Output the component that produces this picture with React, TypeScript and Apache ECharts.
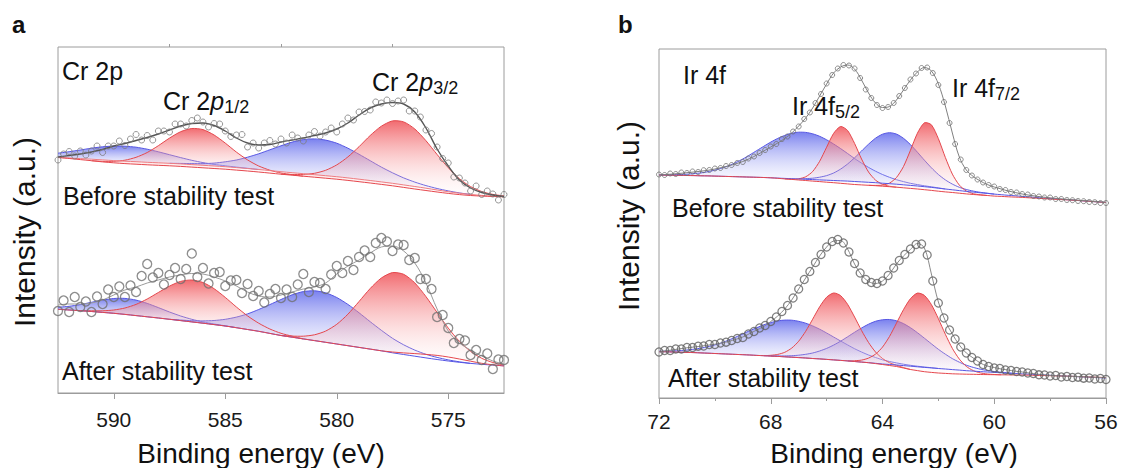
import React, { useEffect, useRef } from 'react';
import * as echarts from 'echarts';

// ---------------- Cr 2p panel (a) ----------------
const crE = [592.5, 592, 591.5, 591, 590.5, 590, 589.5, 589, 588.5, 588, 587.5, 587, 586.5, 586, 585.5, 585, 584.5, 584, 583.5, 583, 582.5, 582, 581.5, 581, 580.5, 580, 579.5, 579, 578.5, 578, 577.5, 577, 576.5, 576, 575.5, 575, 574.5, 574, 573.5, 573, 572.5];
const crScatterE = [592.5, 592.25, 592, 591.75, 591.5, 591.25, 591, 590.75, 590.5, 590.25, 590, 589.75, 589.5, 589.25, 589, 588.75, 588.5, 588.25, 588, 587.75, 587.5, 587.25, 587, 586.75, 586.5, 586.25, 586, 585.75, 585.5, 585.25, 585, 584.75, 584.5, 584.25, 584, 583.75, 583.5, 583.25, 583, 582.75, 582.5, 582.25, 582, 581.75, 581.5, 581.25, 581, 580.75, 580.5, 580.25, 580, 579.75, 579.5, 579.25, 579, 578.75, 578.5, 578.25, 578, 577.75, 577.5, 577.25, 577, 576.75, 576.5, 576.25, 576, 575.75, 575.5, 575.25, 575, 574.75, 574.5, 574.25, 574, 573.75, 573.5, 573.25, 573, 572.75, 572.5];
const crTicks = [575, 580, 585, 590];
const crMinorTicks = [577.5, 582.5, 587.5];

const crBeforeBgBlue = [235.5, 235, 234.4, 233.8, 233.1, 232.4, 231.8, 231.3, 230.7, 230.2, 229.7, 229.1, 228.4, 227.7, 227, 226.3, 225.4, 224.5, 223.5, 222.4, 221.3, 220.3, 219.3, 218.3, 217.3, 216.3, 215.1, 213.8, 212.5, 211.1, 209.7, 208.1, 206.5, 204.8, 203, 201.3, 199.8, 198.6, 197.6, 196.9, 196.3];
const crBeforeBgRed = [235.5, 234.5, 233.4, 232.3, 231.1, 230.2, 229.4, 228.8, 228.2, 227.7, 227.2, 226.6, 225.9, 225.2, 224.5, 223.8, 222.9, 222, 221, 219.9, 218.8, 217.8, 216.8, 215.8, 214.8, 213.8, 212.6, 211.3, 210, 208.6, 207.2, 205.6, 204, 202.5, 201, 199.6, 198.4, 197.5, 196.9, 196.5, 196.2];
const crBeforeEnvelope = [236, 237.5, 239, 241, 243.5, 247, 249.5, 252.5, 255.5, 259, 263, 267, 269.5, 270, 267.5, 262, 255, 250, 248, 248.5, 251, 253, 255, 257.5, 260, 264, 270, 278, 285, 289, 290.5, 289, 281, 265, 244, 227, 213, 205, 200.5, 198, 196.5];
const crBeforeScatter = [233, 239, 241.5, 237, 242, 238, 242, 247, 240.5, 247, 247, 252, 247.5, 254, 258.5, 253, 257.5, 253, 262, 262, 261, 269, 269, 267, 272.5, 275, 271, 266, 269.5, 269, 262, 256.5, 258, 258.5, 246, 250, 245, 250, 252.5, 249, 254, 250, 258, 255, 252, 258, 261.5, 257, 261, 265, 261, 269, 275, 273, 281, 281.5, 283, 291, 290, 293, 289.5, 292, 293, 282, 282, 276, 263, 259.5, 246, 234.5, 230, 216, 215, 210, 202, 207, 198.5, 202, 199, 193, 198.5];
const crBeforeBlue1Start = 592.5;
const crBeforeBlue1 = [4.3, 6.3, 8.6, 11, 13.1, 14.5, 15, 14.5, 13.1, 11, 8.6, 6.3, 4.3, 2.7, 1.6, 0.9, 0.5, 0.2, 0];
const crBeforeBlue2Start = 587.5;
const crBeforeBlue2 = [0, 0.5, 1.0, 1.7, 2.9, 4.9, 7.6, 11.3, 15.7, 20.8, 25.9, 30.6, 34.1, 35.8, 35.6, 33.5, 29.7, 24.9, 19.8, 14.8, 10.5, 7.0, 4.4, 2.6, 1.5, 0.8, 0.3, 0];
const crBeforeRed1Start = 591;
const crBeforeRed1 = [0, 0.6, 1.5, 3.4, 6.9, 12.3, 19.6, 27.7, 34.7, 38.6, 38.2, 33.5, 26.1, 18.0, 11.1, 6.0, 2.9, 1.2, 0.5, 0];
const crBeforeRed2Start = 582.5;
const crBeforeRed2 = [0, 0.8, 1.8, 3.9, 7.9, 14.3, 23.5, 35, 47.5, 58.2, 64.9, 65.5, 60, 49.8, 37.5, 25.7, 15.9, 8.9, 4.6, 2.1, 0.9];

const crAfterBgRed = [83.7, 83, 82.3, 81.5, 80.6, 79.7, 78.6, 77.4, 76.2, 75, 73.7, 72.4, 71.1, 69.8, 68.4, 67, 65.3, 63.5, 61.7, 59.6, 57.5, 55.8, 54.1, 52.4, 50.7, 49, 47.3, 45.6, 43.9, 42.2, 41, 40.1, 39.4, 38.6, 37.6, 36, 34, 31.8, 29.7, 28.2, 27];
const crAfterBgBlue = [83.7, 83, 82.3, 81.5, 80.6, 79.7, 78.6, 77.4, 76.2, 75, 73.7, 72.4, 71.1, 69.8, 68.4, 67, 65.3, 63.5, 61.7, 59.6, 57.5, 55.8, 54.1, 52.4, 50.7, 49, 47.3, 45.6, 43.9, 42.2, 40.2, 38.5, 36.8, 35.1, 33.5, 32, 30.7, 29.6, 28.7, 27.9, 27.2];
const crAfterEnvelope = [88, 89, 89, 90, 93, 98, 103, 106, 110, 113, 116, 118, 119.5, 119, 116, 112, 107, 101, 97, 96, 98, 101, 104, 106, 110, 119, 127, 133, 140, 146, 147, 142, 130, 110, 84, 62, 50, 43, 37, 32, 29];
const crAfterScatter = [82, 92.5, 81, 96, 86, 91.5, 81, 96.5, 89, 103.5, 96, 106.5, 96, 107.5, 101, 117, 129, 115.5, 120, 108.5, 118, 125, 114, 124, 139.5, 116, 125, 109.5, 120, 121, 107, 112.5, 113, 100, 109, 97, 102, 90.5, 99, 104, 95, 103.5, 96, 108.5, 119, 101, 111, 110, 104, 118.5, 127, 120, 132, 123, 136, 142.5, 136, 150, 155, 151.5, 142, 148.5, 148, 133, 135, 114, 114, 104, 76, 78, 65, 50, 54, 52.5, 38, 43, 33, 39.5, 24, 33.5, 33];
const crAfterBlue1Start = 592.5;
const crAfterBlue1 = [2.0, 3.7, 6.1, 9.2, 12.3, 14.8, 16, 15.5, 13.4, 10.4, 7.3, 4.6, 2.6, 1.3, 0.6, 0.2, 0];
const crAfterBlue2Start = 587.5;
const crAfterBlue2 = [0, 0.6, 1.2, 2.3, 4.1, 6.7, 10.6, 15.6, 21.8, 28.8, 36, 42.4, 47.3, 49.8, 49.5, 46.5, 41.3, 34.6, 27.4, 20.5, 14.5, 9.7, 6.1, 3.6, 2.1, 1.1, 0.5, 0];
const crAfterRed1Start = 591.5;
const crAfterRed1 = [0, 0.7, 1.6, 3.3, 6.4, 11.2, 17.8, 25.5, 33.2, 39.2, 41.9, 40.7, 35.9, 28.6, 20.7, 13.6, 8.1, 4.4, 2.2, 1.0, 0];
const crAfterRed2Start = 582.5;
const crAfterRed2 = [0, 1.1, 2.7, 5.8, 11.2, 19.7, 31.5, 45.9, 60.6, 72.8, 79.4, 78.6, 70.7, 57.8, 42.9, 28.9, 17.7, 9.9, 5.0, 2.3, 1.0];

// ---------------- Ir 4f panel (b) ----------------
const irE = [72, 71.75, 71.5, 71.25, 71, 70.75, 70.5, 70.25, 70, 69.75, 69.5, 69.25, 69, 68.75, 68.5, 68.25, 68, 67.75, 67.5, 67.25, 67, 66.75, 66.5, 66.25, 66, 65.75, 65.5, 65.25, 65, 64.75, 64.5, 64.25, 64, 63.75, 63.5, 63.25, 63, 62.75, 62.5, 62.25, 62, 61.75, 61.5, 61.25, 61, 60.75, 60.5, 60.25, 60, 59.75, 59.5, 59.25, 59, 58.75, 58.5, 58.25, 58, 57.75, 57.5, 57.25, 57, 56.75, 56.5, 56.25, 56];
const irScatterE = [72, 71.8, 71.6, 71.4, 71.2, 71, 70.8, 70.6, 70.4, 70.2, 70, 69.8, 69.6, 69.4, 69.2, 69, 68.8, 68.6, 68.4, 68.2, 68, 67.8, 67.6, 67.4, 67.2, 67, 66.8, 66.6, 66.4, 66.2, 66, 65.8, 65.6, 65.4, 65.2, 65, 64.8, 64.6, 64.4, 64.2, 64, 63.8, 63.6, 63.4, 63.2, 63, 62.8, 62.6, 62.4, 62.2, 62, 61.8, 61.6, 61.4, 61.2, 61, 60.8, 60.6, 60.4, 60.2, 60, 59.8, 59.6, 59.4, 59.2, 59, 58.8, 58.6, 58.4, 58.2, 58, 57.8, 57.6, 57.4, 57.2, 57, 56.8, 56.6, 56.4, 56.2, 56];
const irTicks = [56, 60, 64, 68, 72];

const irBeforeBgBlue = [223, 222.9, 222.8, 222.7, 222.5, 222.4, 222.2, 222.1, 221.9, 221.7, 221.5, 221.3, 221.1, 220.9, 220.7, 220.5, 220.2, 219.9, 219.6, 219.3, 219, 218.7, 218.4, 218.1, 217.8, 217.5, 217.2, 216.9, 216.5, 216.1, 215.7, 215.3, 214.8, 214.3, 213.8, 213.2, 212.6, 212, 211.3, 210.6, 209.8, 209, 208.2, 207.4, 206.6, 205.9, 205.2, 204.6, 203.9, 203.3, 202.7, 202.2, 201.6, 201.1, 200.5, 200, 199.5, 199, 198.5, 198, 197.5, 197, 196.5, 196, 195.5];
const irBeforeBgRed = [223, 222.9, 222.8, 222.7, 222.5, 222.4, 222.2, 222.1, 221.9, 221.7, 221.5, 221.3, 221.1, 220.9, 220.7, 220.5, 220.2, 219.7, 219.1, 218.6, 218, 217.5, 216.9, 216.4, 215.8, 215.3, 214.7, 214.1, 213.5, 213.1, 212.7, 212.3, 211.8, 211.3, 210.8, 210.2, 209.6, 209, 208.3, 207.6, 206.8, 206.1, 205.5, 204.8, 204.1, 203.5, 203, 202.5, 201.9, 201.6, 201.2, 200.9, 200.6, 200.2, 199.8, 199.4, 199, 198.6, 198.3, 197.9, 197.5, 197, 196.5, 196, 195.5];
const irBeforeEnvelope = [223, 223.5, 224, 224.6, 225.3, 226, 226.8, 227.7, 229, 230.5, 232.2, 234.2, 236.5, 239.5, 243, 247, 251, 255, 259.5, 265, 272, 280, 290, 302, 314, 325, 331, 333, 329, 318, 305, 295, 290.5, 291.5, 298, 308, 318, 326, 330.5, 327, 314, 292, 265, 241, 228, 221.5, 217, 213.5, 211, 209, 207, 205.5, 204, 202.8, 201.8, 200.9, 200.2, 199.5, 198.9, 198.3, 197.8, 197.3, 196.8, 196.2, 195.8];
const irBeforeScatter = [223.5, 223, 224.5, 224, 225.5, 225, 226.5, 226, 227.8, 228, 229.5, 230, 232, 233, 235, 236, 239.5, 241.5, 245, 248, 251.5, 254, 259, 261.5, 266.5, 271.5, 279, 285.5, 295, 304, 314.5, 323, 329.5, 333, 332.5, 329.5, 320, 308.5, 300, 293, 290, 291, 295, 302, 310, 318.5, 324.5, 330, 330.5, 325, 313, 296, 275, 254, 238.5, 228, 222.5, 218.5, 215.5, 213, 211.5, 209, 208, 206, 205.5, 204, 203.5, 202, 201.5, 200.5, 200.5, 199, 199, 198, 197.8, 197, 196.8, 196, 195.8, 195, 195];
const irBeforeBlue1Start = 72;
const irBeforeBlue1 = [0.2, 0.3, 0.5, 0.8, 1.3, 2.0, 2.9, 4.2, 6.0, 8.2, 10.9, 14.2, 17.9, 22.2, 26.7, 31.2, 35.7, 39.7, 43, 45.5, 46.8, 46.9, 45.8, 43.6, 40.4, 36.5, 32.2, 27.6, 23.0, 18.8, 14.9, 11.5, 8.7, 6.4, 4.5, 3.2, 2.1, 1.4, 0.9, 0.6, 0.3, 0];
const irBeforeBlue2Start = 67;
const irBeforeBlue2 = [0.3, 0.7, 1.4, 2.7, 4.6, 7.5, 11.7, 17.1, 23.7, 30.9, 38.1, 44.5, 49, 51, 50.1, 46.5, 40.8, 33.8, 26.5, 19.6, 13.7, 9.1, 5.7, 3.3, 1.9, 1.0, 0.5, 0.2, 0];
const irBeforeRed1Start = 67.5;
const irBeforeRed1 = [0, 0.3, 1.2, 3.7, 9.6, 20.3, 35, 49.3, 56.8, 53.4, 41.1, 25.9, 13.3, 5.6, 1.9, 0.5, 0];
const irBeforeRed2Start = 64.5;
const irBeforeRed2 = [0, 0.3, 1.1, 3.6, 9.7, 21.2, 38.1, 55.8, 66.9, 65.6, 52.5, 34.4, 18.4, 8.1, 2.9, 0.8, 0.2, 0];

const irAfterBgBlue = [46.3, 46.2, 46, 45.8, 45.6, 45.4, 45.1, 44.8, 44.5, 44.2, 43.9, 43.6, 43.3, 43, 42.6, 42.3, 41.9, 41.6, 41.2, 40.8, 40.4, 40, 39.5, 39.1, 38.6, 38.1, 37.6, 37.1, 36.5, 35.9, 35.3, 34.7, 34, 33.5, 33, 32.4, 31.8, 31.2, 30.6, 30.1, 29.5, 29, 28.4, 27.9, 27.3, 26.9, 26.4, 26, 25.6, 25.2, 24.8, 24.5, 24.1, 23.8, 23.4, 23.1, 22.7, 22.4, 22, 21.7, 21.3, 21, 20.6, 20.3, 20];
const irAfterBgRed = [46.3, 46.2, 46, 45.8, 45.6, 45.4, 45.1, 44.8, 44.5, 44.2, 43.9, 43.6, 43.3, 43, 42.6, 42.3, 41.9, 41.6, 41.2, 40.8, 40.4, 40, 39.5, 39.1, 38.6, 38.1, 37.6, 37.1, 36.5, 35.9, 35.3, 34.4, 33.5, 32.5, 31.5, 30, 28.5, 27.4, 26.3, 25.6, 25, 24.6, 24.2, 24, 23.8, 23.7, 23.5, 23.4, 23.3, 23.2, 23.1, 23, 22.9, 22.8, 22.6, 22.5, 22.3, 22.1, 21.9, 21.7, 21.4, 21.2, 20.9, 20.7, 20.4];
const irAfterEnvelope = [46.3, 47.2, 48.2, 49.2, 50.2, 51, 51.8, 52.8, 53.8, 55, 56.6, 58.7, 61, 64.5, 68, 71.5, 76.5, 82, 89, 98, 109, 120, 131, 142, 151, 157, 157.5, 149, 134, 123, 116.5, 114.5, 117, 124, 134, 142, 148.5, 154.5, 150, 124, 96, 77, 64, 53, 45, 40, 35, 32, 30.5, 29, 28, 26.8, 26, 25, 24, 23.2, 22.6, 22.2, 21.9, 21.7, 21.5, 21.2, 20.9, 20.6, 20.4];
const irAfterScatter = [46, 47.5, 47.5, 49, 49, 50.5, 50.5, 51.8, 52, 53.5, 53.5, 55, 55.8, 57.5, 59.5, 60.5, 64, 66.5, 70, 72.5, 76.5, 81, 86.5, 92.5, 100, 109, 118.5, 126.5, 135.5, 143.5, 151, 156.5, 158.5, 155, 146, 134.5, 125, 118.5, 115.5, 114.5, 117, 122.5, 130, 137.5, 143.5, 149, 153.5, 154, 143, 117, 95, 80, 68, 59, 51, 45, 40.5, 37, 33.5, 31.5, 30, 29.5, 28, 27.5, 26.5, 26, 25, 24.5, 23.2, 23, 22, 22.5, 21, 21.5, 20.5, 20.8, 19.8, 20, 19, 19.5, 18.5];
const irAfterBlue1Start = 72;
const irAfterBlue1 = [0.4, 0.7, 1.1, 1.6, 2.4, 3.4, 4.8, 6.5, 8.6, 11.1, 14.1, 17.3, 20.8, 24.3, 27.7, 30.9, 33.5, 35.5, 36.7, 37, 36.3, 34.8, 32.6, 29.7, 26.4, 22.9, 19.4, 16, 12.8, 10.1, 7.7, 5.8, 4.2, 3.0, 2.1, 1.4, 0.9, 0.6, 0.4, 0.2, 0];
const irAfterBlue2Start = 68;
const irAfterBlue2 = [0.3, 0.5, 0.9, 1.5, 2.4, 3.7, 5.5, 7.9, 11, 14.8, 19.2, 24.1, 29.2, 34.1, 38.5, 42, 44.2, 45, 44.2, 42, 38.5, 34.1, 29.2, 24.1, 19.2, 14.8, 11, 7.9, 5.5, 3.7, 2.4, 1.5, 0.9, 0.5, 0.3, 0];
const irAfterRed1Start = 68.25;
const irAfterRed1 = [0, 0.8, 2.0, 4.5, 9.1, 16.4, 26.7, 39.3, 52.1, 62.2, 66.9, 64.8, 56.6, 44.5, 31.6, 20.2, 11.6, 6.0, 2.8, 1.2, 0.5, 0];
const irAfterRed2Start = 65.25;
const irAfterRed2 = [0, 0.8, 2.0, 4.6, 9.5, 17.4, 29, 43.3, 58.3, 70.8, 77.5, 76.3, 67.8, 54.3, 39.1, 25.4, 14.9, 7.8, 3.7, 1.6, 0.6, 0.2, 0];

// ---------------- styling ----------------
const FONT = "'Liberation Sans', Arial, Helvetica, sans-serif";
const AXIS_GRAY = '#9c9c9c';
const RED_LINE = '#e5474d';
const BLUE_LINE = '#5656e4';

function pairs(xs: number[], ys: number[]) {
  return xs.map((x, i) => [x, ys[i]]);
}
function redFill() {
  return new echarts.graphic.LinearGradient(0, 0, 0, 1, [
    { offset: 0, color: 'rgba(238,70,76,0.80)' },
    { offset: 1, color: 'rgba(255,230,230,0.06)' },
  ]);
}
function blueFill() {
  return new echarts.graphic.LinearGradient(0, 0, 0, 1, [
    { offset: 0, color: 'rgba(70,80,232,0.72)' },
    { offset: 1, color: 'rgba(230,232,255,0.06)' },
  ]);
}

// A fitted component: filled between the background and (background + component height)
function peakSeries(id: string, xi: number, yi: number, grid: number[], bg: number[], start: number, vals: number[], red: boolean) {
  const s = grid.findIndex((e) => Math.abs(e - start) < 1e-6);
  const pts = vals.map((h, k) => [grid[s + k], bg[s + k], h]);
  return {
    id, type: 'custom', xAxisIndex: xi, yAxisIndex: yi, silent: true, clip: true,
    z: red ? 4 : 3,
    data: [[pts[0][0], pts[0][1]]],
    renderItem: (_params: any, api: any) => {
      const top = pts.map((p) => api.coord([p[0], p[1] + p[2]]));
      const bot = pts.map((p) => api.coord([p[0], p[1]])).reverse();
      return {
        type: 'group',
        children: [
          {
            type: 'polygon',
            shape: { points: top.concat(bot), smooth: 0.25 },
            style: { fill: red ? redFill() : blueFill(), stroke: 'none' },
          },
          {
            type: 'polyline',
            shape: { points: top, smooth: 0.25 },
            style: { stroke: red ? RED_LINE : BLUE_LINE, lineWidth: 1, fill: 'none' },
          },
        ],
      };
    },
  };
}
function bgLine(id: string, xi: number, yi: number, grid: number[], bg: number[], color: string) {
  return {
    id, type: 'line', xAxisIndex: xi, yAxisIndex: yi, data: pairs(grid, bg), symbol: 'none',
    smooth: 0.3, lineStyle: { color, width: 1 }, silent: true, z: 5,
  };
}
function envLine(id: string, xi: number, yi: number, grid: number[], v: number[], color: string, width: number) {
  return {
    id, type: 'line', xAxisIndex: xi, yAxisIndex: yi, data: pairs(grid, v), symbol: 'none',
    smooth: 0.35, lineStyle: { color, width }, silent: true, z: 6,
  };
}
function scatter(id: string, xi: number, yi: number, grid: number[], v: number[], size: number, color: string, bw: number) {
  return {
    id, type: 'scatter', xAxisIndex: xi, yAxisIndex: yi, data: pairs(grid, v), symbol: 'circle',
    symbolSize: size, itemStyle: { color: 'rgba(255,255,255,0)', borderColor: color, borderWidth: bw },
    silent: true, z: 7,
  };
}

function plainText(text: string, x: number, y: number, size: number, opts: any = {}) {
  return {
    type: 'text', x, y, rotation: opts.rotation || 0, z: 100,
    style: {
      text, fill: '#111', fontSize: size, fontFamily: FONT, fontWeight: opts.bold ? 'bold' : 'normal',
      align: opts.align || 'left', verticalAlign: 'middle',
      textAlign: opts.align || 'left', textVerticalAlign: 'middle',
    },
  };
}
function subText(main: string, italic: string, sub: string, x: number, top: number) {
  const base = { fontSize: 25, lineHeight: 30, fontFamily: FONT, fill: '#111' };
  return {
    type: 'text', x, y: top, z: 100,
    style: {
      text: '{n|' + main + '}' + (italic ? '{i|' + italic + '}' : '') + '{s|' + sub + '}',
      align: 'left', verticalAlign: 'top', textAlign: 'left', textVerticalAlign: 'top',
      rich: {
        n: base,
        i: { ...base, fontStyle: 'italic' },
        s: { fontSize: 18, lineHeight: 14, fontFamily: FONT, fill: '#111', verticalAlign: 'bottom' },
      },
    },
  };
}

export default function App() {
  const ref = useRef<HTMLDivElement>(null);
  useEffect(() => {
    document.body.style.margin = '0';
    if (!ref.current) return;
    const chart = echarts.init(ref.current, undefined, { renderer: 'svg' });

    const series: any[] = [
      // Cr before
      peakSeries('crB-b1', 0, 0, crE, crBeforeBgBlue, crBeforeBlue1Start, crBeforeBlue1, false),
      peakSeries('crB-b2', 0, 0, crE, crBeforeBgBlue, crBeforeBlue2Start, crBeforeBlue2, false),
      peakSeries('crB-r1', 0, 0, crE, crBeforeBgRed, crBeforeRed1Start, crBeforeRed1, true),
      peakSeries('crB-r2', 0, 0, crE, crBeforeBgRed, crBeforeRed2Start, crBeforeRed2, true),
      bgLine('crB-bgb', 0, 0, crE, crBeforeBgBlue, '#ee7d82'),
      bgLine('crB-bgr', 0, 0, crE, crBeforeBgRed, RED_LINE),
      envLine('crB-env', 0, 0, crE, crBeforeEnvelope, '#555555', 1.4),
      scatter('crB-sc', 0, 0, crScatterE, crBeforeScatter, 6, '#7c7c7c', 1),
      // Cr after
      peakSeries('crA-b1', 0, 0, crE, crAfterBgBlue, crAfterBlue1Start, crAfterBlue1, false),
      peakSeries('crA-b2', 0, 0, crE, crAfterBgBlue, crAfterBlue2Start, crAfterBlue2, false),
      peakSeries('crA-r1', 0, 0, crE, crAfterBgRed, crAfterRed1Start, crAfterRed1, true),
      peakSeries('crA-r2', 0, 0, crE, crAfterBgRed, crAfterRed2Start, crAfterRed2, true),
      bgLine('crA-bgb', 0, 0, crE, crAfterBgBlue, BLUE_LINE),
      bgLine('crA-bgr', 0, 0, crE, crAfterBgRed, RED_LINE),
      envLine('crA-env', 0, 0, crE, crAfterEnvelope, '#9a9a9a', 1),
      scatter('crA-sc', 0, 0, crScatterE, crAfterScatter, 9, '#707070', 1.3),
      // Ir before
      peakSeries('irB-b1', 2, 1, irE, irBeforeBgBlue, irBeforeBlue1Start, irBeforeBlue1, false),
      peakSeries('irB-b2', 2, 1, irE, irBeforeBgBlue, irBeforeBlue2Start, irBeforeBlue2, false),
      peakSeries('irB-r1', 2, 1, irE, irBeforeBgRed, irBeforeRed1Start, irBeforeRed1, true),
      peakSeries('irB-r2', 2, 1, irE, irBeforeBgRed, irBeforeRed2Start, irBeforeRed2, true),
      bgLine('irB-bgb', 2, 1, irE, irBeforeBgBlue, BLUE_LINE),
      bgLine('irB-bgr', 2, 1, irE, irBeforeBgRed, RED_LINE),
      envLine('irB-env', 2, 1, irE, irBeforeEnvelope, '#808080', 1),
      scatter('irB-sc', 2, 1, irScatterE, irBeforeScatter, 5, '#707070', 1),
      // Ir after
      peakSeries('irA-b1', 2, 1, irE, irAfterBgBlue, irAfterBlue1Start, irAfterBlue1, false),
      peakSeries('irA-b2', 2, 1, irE, irAfterBgBlue, irAfterBlue2Start, irAfterBlue2, false),
      peakSeries('irA-r1', 2, 1, irE, irAfterBgRed, irAfterRed1Start, irAfterRed1, true),
      peakSeries('irA-r2', 2, 1, irE, irAfterBgRed, irAfterRed2Start, irAfterRed2, true),
      bgLine('irA-bgb', 2, 1, irE, irAfterBgBlue, BLUE_LINE),
      bgLine('irA-bgr', 2, 1, irE, irAfterBgRed, RED_LINE),
      envLine('irA-env', 2, 1, irE, irAfterEnvelope, '#8a8a8a', 1),
      scatter('irA-sc', 2, 1, irScatterE, irAfterScatter, 8, '#606060', 1.3),
    ];

    const labelStyle = { fontSize: 21, color: '#1a1a1a', fontFamily: FONT };

    chart.setOption({
      animation: false,
      backgroundColor: '#ffffff',
      grid: [
        { left: 58, top: 47, width: 446, height: 346, show: true, borderColor: AXIS_GRAY, borderWidth: 1, backgroundColor: 'transparent' },
        { left: 659, top: 49, width: 447, height: 349, show: true, borderColor: AXIS_GRAY, borderWidth: 1, backgroundColor: 'transparent' },
      ],
      xAxis: [
        {
          gridIndex: 0, type: 'value', inverse: true, min: 572.5, max: 592.5,
          axisLine: { show: true, lineStyle: { color: AXIS_GRAY } },
          axisTick: { show: true, customValues: crTicks, length: 6, lineStyle: { color: AXIS_GRAY } },
          axisLabel: { ...labelStyle, margin: 16, customValues: crTicks },
          splitLine: { show: false },
        },
        {
          gridIndex: 0, type: 'value', inverse: true, min: 572.5, max: 592.5,
          axisLine: { show: false },
          axisTick: { show: true, customValues: crMinorTicks, length: 3, lineStyle: { color: AXIS_GRAY } },
          axisLabel: { show: false },
          splitLine: { show: false },
        },
        {
          gridIndex: 1, type: 'value', inverse: true, min: 56, max: 72, interval: 4,
          axisLine: { show: true, lineStyle: { color: AXIS_GRAY } },
          axisTick: { show: true, length: 6, lineStyle: { color: AXIS_GRAY } },
          minorTick: { show: true, splitNumber: 2, length: 3, lineStyle: { color: AXIS_GRAY } },
          axisLabel: { ...labelStyle, margin: 13, customValues: irTicks },
          splitLine: { show: false },
          minorSplitLine: { show: false },
        },
      ],
      yAxis: [
        { gridIndex: 0, type: 'value', min: 0, max: 346, show: false },
        { gridIndex: 1, type: 'value', min: 0, max: 349, show: false },
      ],
      series,
      graphic: [
        plainText('a', 12, 24, 24, { bold: true }),
        plainText('b', 618, 24, 24, { bold: true }),
        plainText('Intensity (a.u.)', 24, 232, 30, { align: 'center', rotation: Math.PI / 2 }),
        plainText('Intensity (a.u.)', 628, 216, 30, { align: 'center', rotation: Math.PI / 2 }),
        plainText('Binding energy (eV)', 261, 453, 28, { align: 'center' }),
        plainText('Binding energy (eV)', 894, 453, 28, { align: 'center' }),
        plainText('Cr 2p', 62, 71, 25),
        subText('Cr 2', 'p', '1/2', 163, 86),
        subText('Cr 2', 'p', '3/2', 372, 67),
        plainText('Before stability test', 63, 196, 25),
        plainText('After stability test', 62, 371, 25),
        plainText('Ir 4f', 683, 75, 25),
        subText('Ir 4f', '', '5/2', 792, 91),
        subText('Ir 4f', '', '7/2', 952, 73),
        plainText('Before stability test', 672, 208, 25),
        plainText('After stability test', 668, 378, 25),
      ],
    });

    return () => chart.dispose();
  }, []);

  return <div ref={ref} style={{ width: 1121, height: 468 }} />;
}
